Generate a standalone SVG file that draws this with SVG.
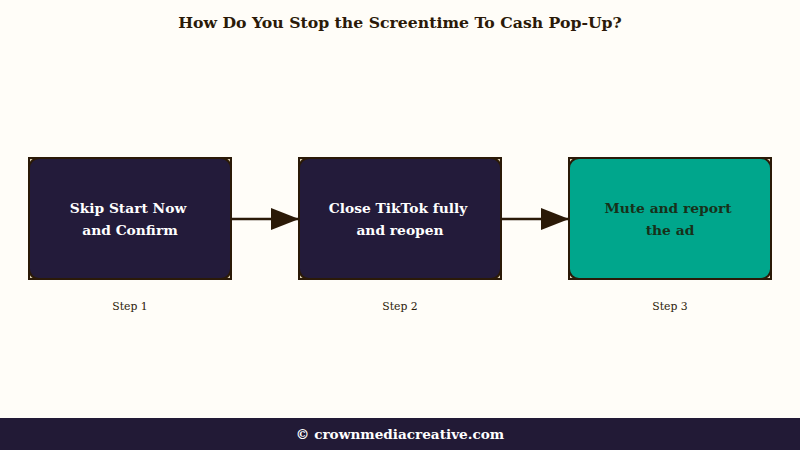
<svg xmlns="http://www.w3.org/2000/svg" width="800" height="450" viewBox="0 0 800 450">
<style>
text{font-family:Georgia,"DejaVu Serif","Liberation Serif",serif}
.title{font-size:15.7px;font-weight:bold;fill:#2b1a08}
.frame{fill:#d9ccb0;stroke:#2b1a08;stroke-width:2}
.dark{fill:#231b3a;stroke:#2b1a08;stroke-width:2}
.teal{fill:#00a68c;stroke:#2b1a08;stroke-width:2}
.lbl{font-size:13.8px;font-weight:bold;text-anchor:middle}
.lw{fill:#ffffff}
.lt{fill:#17311a}
.step{font-size:10.8px;fill:#2b1a08;text-anchor:middle}
.conn{stroke:#2b1a08;stroke-width:2.5;fill:none}
.foot{font-size:13.6px;font-weight:bold;fill:#ffffff;text-anchor:middle}
</style>
<defs>
<marker id="arr" viewBox="0 0 28 22" refX="28" refY="11" markerWidth="28" markerHeight="22" orient="auto" markerUnits="userSpaceOnUse">
<path d="M0,0 L28,11 L0,22 z" fill="#2b1a08"/>
</marker>
</defs>
<rect x="0" y="0" width="800" height="450" fill="#fffdf8"/>
<text class="title" x="400" y="28" text-anchor="middle">How Do You Stop the Screentime To Cash Pop-Up?</text>
<g id="connectors">
<line class="conn" x1="231" y1="219" x2="299" y2="219" marker-end="url(#arr)"/>
<line class="conn" x1="501" y1="219" x2="569" y2="219" marker-end="url(#arr)"/>
</g>
<g id="node1">
<rect class="frame" x="29" y="158" width="202" height="121"/>
<rect class="dark" x="29" y="158" width="202" height="121" rx="10"/>
<text class="lbl lw" x="128" y="213">Skip Start Now</text>
<text class="lbl lw" x="130" y="235">and Confirm</text>
<text class="step" x="130" y="310">Step 1</text>
</g>
<g id="node2">
<rect class="frame" x="299" y="158" width="202" height="121"/>
<rect class="dark" x="299" y="158" width="202" height="121" rx="10"/>
<text class="lbl lw" x="398" y="213">Close TikTok fully</text>
<text class="lbl lw" x="400" y="235">and reopen</text>
<text class="step" x="400" y="310">Step 2</text>
</g>
<g id="node3">
<rect class="frame" x="569" y="158" width="202" height="121"/>
<rect class="teal" x="569" y="158" width="202" height="121" rx="10"/>
<text class="lbl lt" x="668" y="213">Mute and report</text>
<text class="lbl lt" x="670" y="235">the ad</text>
<text class="step" x="670" y="310">Step 3</text>
</g>
<g id="footer">
<rect x="0" y="418" width="800" height="32" fill="#221a36"/>
<text class="foot" x="400" y="439">© crownmediacreative.com</text>
</g>
</svg>
